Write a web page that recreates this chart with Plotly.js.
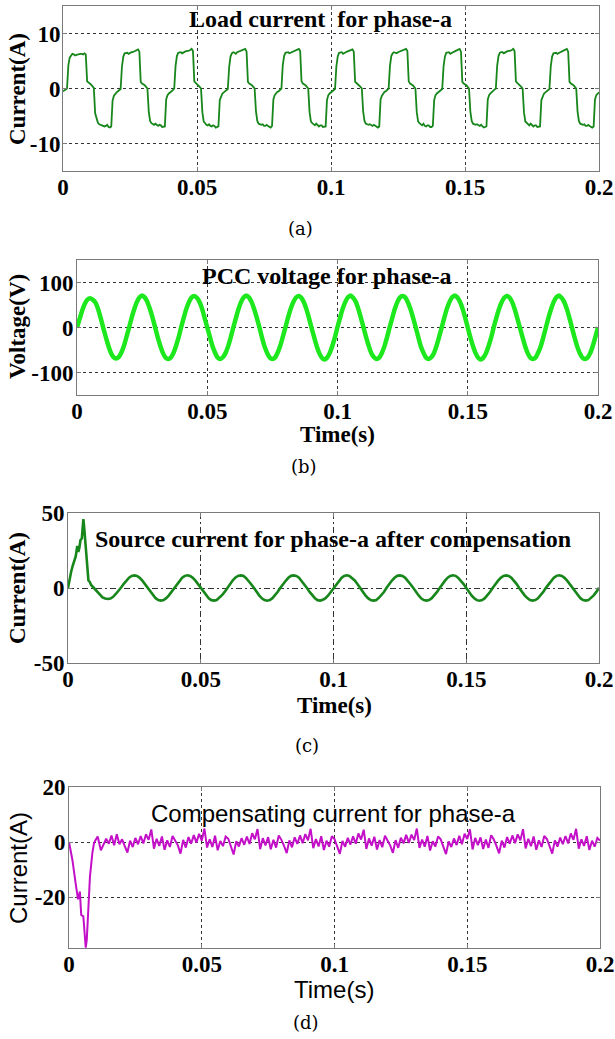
<!DOCTYPE html>
<html>
<head>
<meta charset="utf-8">
<script src="https://cdn.plot.ly/plotly-3.0.1.min.js"></script>
<style>html,body{margin:0;padding:0;background:#fff;}#chart{width:615px;height:1039px;}</style>
</head>
<body>
<div id="chart"></div>
<script>
// ---------------- DATA ----------------
const xTickVals = [0, 0.05, 0.1, 0.15, 0.2];
const xTickLabels = ['0', '0.05', '0.1', '0.15', '0.2'];
const yTickValsA = [-10, 0, 10];    const yTickLabelsA = ['-10', '0', '10'];
const yTickValsB = [-100, 0, 100];  const yTickLabelsB = ['-100', '0', '100'];
const yTickValsC = [-50, 0, 50];    const yTickLabelsC = ['-50', '0', '50'];
const yTickValsD = [-20, 0, 20];    const yTickLabelsD = ['-20', '0', '20'];

// (a) Load current, phase-a, sampled every 0.5 ms (rows = 20 ms cycles)
const loadStep = 0.0005;
const loadCurrent = [
 -0.5,-0.4,-0.2,0.0,4.2,5.6,6.1,6.3,6.2,6.0,6.1,6.2,6.2,6.3,6.3,6.2,6.4,6.2,1.3,1.0,0.9,0.7,0.4,0.1,-4.5,-5.4,-6.2,-6.5,-6.6,-6.6,-6.7,-6.9,-6.8,-6.6,-7.0,-7.1,-6.9,-2.2,-1.3,-0.9,
 -0.7,-0.5,-0.3,-0.1,4.0,5.8,6.4,6.5,6.5,6.3,6.5,6.6,6.6,6.7,6.8,6.9,7.1,6.7,1.2,0.9,0.8,0.6,0.3,0.0,-4.2,-5.9,-6.3,-6.5,-6.6,-6.4,-6.7,-6.8,-6.6,-6.7,-7.0,-7.0,-6.9,-2.0,-1.2,-0.9,
 -0.6,-0.5,-0.3,0.0,4.1,5.9,6.5,6.6,6.6,6.4,6.6,6.7,6.8,6.8,6.9,7.0,7.2,6.8,1.3,1.0,0.8,0.6,0.3,0.0,-4.3,-6.0,-6.4,-6.6,-6.7,-6.5,-6.8,-6.9,-6.7,-6.8,-7.1,-7.0,-6.9,-2.1,-1.3,-0.9,
 -0.7,-0.5,-0.3,-0.1,3.9,5.8,6.4,6.6,6.5,6.3,6.6,6.7,6.7,6.8,6.9,7.0,7.2,6.7,1.2,0.9,0.8,0.6,0.3,0.0,-4.1,-5.9,-6.4,-6.5,-6.6,-6.5,-6.8,-6.8,-6.6,-6.8,-7.0,-7.1,-6.8,-2.0,-1.2,-0.8,
 -0.6,-0.5,-0.2,0.0,4.2,5.9,6.5,6.6,6.6,6.4,6.5,6.7,6.7,6.8,6.9,7.1,7.2,6.8,1.3,0.9,0.8,0.6,0.3,0.0,-4.3,-6.0,-6.3,-6.6,-6.7,-6.4,-6.7,-6.9,-6.7,-6.7,-7.0,-7.0,-6.9,-2.1,-1.2,-0.9,
 -0.7,-0.5,-0.3,-0.1,4.0,5.8,6.5,6.5,6.6,6.3,6.5,6.6,6.7,6.8,6.9,7.0,7.1,6.7,1.2,1.0,0.8,0.6,0.3,0.0,-4.2,-5.9,-6.4,-6.5,-6.6,-6.5,-6.7,-6.8,-6.6,-6.8,-7.0,-7.1,-6.9,-2.0,-1.3,-0.9,
 -0.6,-0.5,-0.3,0.0,4.1,5.9,6.4,6.6,6.5,6.4,6.6,6.7,6.7,6.8,6.9,7.0,7.2,6.8,1.3,0.9,0.8,0.6,0.3,0.0,-4.3,-6.0,-6.3,-6.6,-6.7,-6.4,-6.8,-6.9,-6.7,-6.7,-7.0,-7.0,-6.8,-2.1,-1.2,-0.9,
 -0.7,-0.5,-0.3,-0.1,4.0,5.8,6.5,6.6,6.6,6.3,6.5,6.6,6.7,6.8,6.9,7.1,7.2,6.7,1.2,0.9,0.8,0.6,0.3,0.0,-4.2,-5.9,-6.4,-6.5,-6.6,-6.5,-6.7,-6.8,-6.6,-6.8,-7.1,-7.0,-6.9,-2.0,-1.2,-0.9,
 -0.6,-0.5,-0.2,0.0,4.1,5.9,6.5,6.6,6.6,6.4,6.6,6.7,6.8,6.8,6.9,7.0,7.2,6.8,1.3,1.0,0.8,0.6,0.3,0.0,-4.3,-6.0,-6.3,-6.6,-6.7,-6.4,-6.7,-6.9,-6.7,-6.7,-7.0,-7.0,-6.9,-2.1,-1.3,-0.9,
 -0.7,-0.5,-0.3,-0.1,4.0,5.8,6.4,6.5,6.5,6.3,6.5,6.6,6.7,6.8,6.9,7.0,7.2,6.7,1.2,0.9,0.8,0.6,0.3,0.0,-4.2,-5.9,-6.4,-6.5,-6.6,-6.5,-6.8,-6.8,-6.6,-6.8,-7.0,-7.1,-6.9,-2.0,-1.2,-0.9,
 -0.7
];

// (b) PCC voltage, phase-a, sampled every 1 ms
const voltStep = 0.001;
const pccVoltage = [
 0,19,38,53,62,65,62,56,43,23,1,-20,-40,-56,-66,-69,-66,-56,-41,-21,
 0,22,41,57,67,71,67,57,41,22,0,-22,-41,-57,-67,-70,-67,-57,-41,-22,
 1,22,42,57,67,70,66,57,42,21,0,-21,-41,-56,-67,-70,-66,-57,-42,-22,
 0,21,41,57,67,71,67,57,41,22,1,-22,-42,-57,-67,-70,-67,-56,-41,-21,
 0,22,41,56,66,70,67,57,42,22,0,-21,-41,-57,-67,-71,-67,-57,-41,-22,
 1,22,42,57,67,71,66,57,41,21,0,-22,-41,-57,-66,-70,-67,-57,-42,-22,
 0,21,41,57,67,70,67,56,41,22,1,-21,-42,-56,-67,-70,-66,-57,-41,-21,
 0,22,42,57,67,71,67,57,42,22,0,-22,-41,-57,-67,-71,-67,-57,-41,-22,
 1,22,41,56,66,70,67,57,41,21,0,-21,-41,-57,-67,-70,-67,-56,-42,-22,
 0,22,41,57,67,71,66,57,42,22,0,-22,-42,-57,-67,-70,-67,-57,-41,-21,
 1
];

// (c) Source current after compensation: start-up transient (ms, A) then steady part every 1 ms from 12 ms
const srcTransientMs = [0,0.6,1.2,1.8,2.4,2.9,3.5,3.9,4.3,4.7,5.2,5.5,5.8,6.2,6.6,7.0,7.4,7.7,8.2,8.7,9.5,10.5,11.0];
const srcTransientA  = [0,6,11,15,19,21,28,24,27,32,33,38,46,38,30,20,10,5,4,2,0.5,-1.5,-2.6];
const srcSteadyStartMs = 12;
const srcSteadyA = [
 -4.9,-6.3,-7.0,-7.3,-7.0,-5.9,-4.0,-2.0,
 0.3,2.8,5.0,6.9,8.0,8.4,8.0,6.8,4.9,2.5,0.0,-2.6,-4.9,-6.8,-8.0,-8.4,-8.0,-6.8,-4.9,-2.6,
 0.1,2.7,4.9,6.8,8.1,8.5,8.0,6.8,4.9,2.6,-0.1,-2.6,-5.0,-6.8,-8.1,-8.4,-8.0,-6.7,-4.8,-2.6,
 0.0,2.6,5.0,6.9,8.0,8.4,8.1,6.7,4.9,2.5,0.1,-2.7,-4.9,-6.9,-8.0,-8.5,-8.0,-6.8,-4.9,-2.5,
 0.2,2.7,4.8,6.8,8.1,8.4,8.0,6.9,4.8,2.6,0.0,-2.6,-5.0,-6.8,-8.1,-8.4,-7.9,-6.8,-5.0,-2.6,
 0.0,2.6,4.9,6.7,8.0,8.5,8.0,6.8,5.0,2.6,-0.1,-2.5,-4.9,-6.8,-8.0,-8.4,-8.1,-6.7,-4.9,-2.7,
 0.1,2.7,5.0,6.8,8.1,8.4,8.0,6.8,4.9,2.5,0.1,-2.6,-4.8,-6.9,-8.0,-8.4,-8.0,-6.8,-4.9,-2.6,
 0.0,2.6,4.9,6.9,8.0,8.5,8.1,6.7,4.9,2.6,0.0,-2.7,-5.0,-6.8,-8.1,-8.5,-8.0,-6.8,-4.8,-2.5,
 0.2,2.7,4.9,6.8,8.0,8.4,8.0,6.8,5.0,2.6,-0.1,-2.6,-4.9,-6.7,-8.0,-8.4,-8.0,-6.9,-4.9,-2.6,
 0.1,2.6,5.0,6.8,8.1,8.5,8.0,6.8,4.9,2.5,0.0,-2.6,-4.9,-6.8,-8.0,-8.4,-8.1,-6.8,-4.9,-2.6,
 0.2
];

// (d) Compensating current: start-up transient (ms, A) then steady part every 1 ms from 12 ms
const compTransientMs = [0,1.3,2.5,3.4,4.1,4.6,5.4,5.9,6.3,6.7,7.2,7.9,8.8,9.4,9.9,10.8];
const compTransientA  = [0,-6.6,-15,-20.8,-18,-26.5,-27,-35.5,-38.4,-35.5,-23.4,-12.5,-4,-0.5,0.6,2.0];
const compSteadyStartMs = 12;
const compSteadyA = [
 -3.0,-0.6,1.2,-0.6,2.4,-1.2,2.8,-0.8,
 1.0,-1.5,-3.8,0.5,-1.8,1.5,-0.8,2.2,-0.5,2.8,0.8,4.6,-2.4,1.2,-1.4,2.0,-2.8,0.6,-1.8,2.2,
 0.6,-1.2,-4.2,0.8,-2.0,1.8,-0.6,2.5,-0.2,3.0,0.5,4.9,-2.0,1.0,-1.8,2.3,-3.0,0.4,-1.5,2.0,
 1.2,-1.8,-4.5,0.3,-1.6,1.4,-1.0,2.0,-0.7,3.2,1.0,4.7,-2.6,1.4,-1.2,1.8,-2.6,0.8,-2.0,2.4,
 0.8,-1.4,-4.0,0.6,-1.9,1.7,-0.7,2.4,-0.4,2.9,0.6,4.8,-2.2,1.1,-1.6,2.1,-2.9,0.5,-1.7,2.1,
 1.1,-1.6,-4.3,0.4,-1.7,1.5,-0.9,2.1,-0.6,3.1,0.9,4.5,-2.5,1.3,-1.3,1.9,-2.7,0.7,-1.9,2.3,
 0.7,-1.3,-3.9,0.7,-2.1,1.6,-0.5,2.6,-0.3,2.7,0.7,4.9,-2.1,0.9,-1.7,2.2,-3.1,0.3,-1.6,2.0,
 1.0,-1.7,-4.4,0.2,-1.8,1.3,-1.1,2.3,-0.8,3.0,1.1,4.6,-2.7,1.5,-1.1,1.7,-2.5,0.9,-2.1,2.5,
 0.9,-1.4,-4.1,0.5,-2.0,1.8,-0.6,2.4,-0.4,2.8,0.6,4.7,-2.3,1.2,-1.5,2.0,-2.8,0.6,-1.8,2.2,
 1.1,-1.5,-4.2,0.6,-1.7,1.6,-0.8,2.2,-0.5,3.1,0.8,4.8,-2.4,1.0,-1.4,2.1,-2.9,0.5,-1.7,1.5,
 0.5
];

// ---------------- BUILD ----------------
const W = 615, H = 1039;
const sampleTimes = (arr, step, start) => arr.map((_, i) => start + i * step);
const tLoad = sampleTimes(loadCurrent, loadStep, 0);
const tVolt = sampleTimes(pccVoltage, voltStep, 0);
const tSrc = srcTransientMs.map(m => m / 1000).concat(sampleTimes(srcSteadyA, 0.001, srcSteadyStartMs / 1000));
const vSrc = srcTransientA.concat(srcSteadyA);
const tComp = compTransientMs.map(m => m / 1000).concat(sampleTimes(compSteadyA, 0.001, compSteadyStartMs / 1000));
const vComp = compTransientA.concat(compSteadyA);

const serifB = {family: 'Liberation Serif, Times New Roman, serif', size: 23, weight: 'bold', color: '#000'};
const sans = {family: 'Liberation Sans, Arial, sans-serif', size: 24, color: '#000'};

const traces = [
  {x: tLoad, y: loadCurrent, xaxis: 'x', yaxis: 'y', mode: 'lines', line: {color: '#17861b', width: 1.8}, hoverinfo: 'skip'},
  {x: tVolt, y: pccVoltage, xaxis: 'x2', yaxis: 'y2', mode: 'lines', line: {color: '#1de81d', width: 4.5, shape: 'spline', smoothing: 0.8}, hoverinfo: 'skip'},
  {x: tSrc, y: vSrc, xaxis: 'x3', yaxis: 'y3', mode: 'lines', line: {color: '#17861b', width: 2.6}, hoverinfo: 'skip'},
  {x: tComp, y: vComp, xaxis: 'x4', yaxis: 'y4', mode: 'lines', line: {color: '#c40fc8', width: 2}, hoverinfo: 'skip'}
];

function ax(extra) {
  return Object.assign({
    showline: true, linecolor: '#7a7a7a', linewidth: 1, mirror: 'ticks',
    ticks: 'inside', ticklen: 4, tickcolor: '#7a7a7a',
    showgrid: true, gridcolor: '#333', gridwidth: 1, griddash: 'dot',
    zeroline: false, tickfont: serifB, fixedrange: true
  }, extra);
}
const xd = (l, r) => [l / W, r / W];
const yd = (top, bot) => [1 - bot / H, 1 - top / H];
const xCommon = {range: [0, 0.2], tickvals: xTickVals, ticktext: xTickLabels, ticklabelstandoff: -5};

const layout = {
  width: W, height: H, margin: {l: 0, r: 0, t: 0, b: 0},
  paper_bgcolor: '#fff', plot_bgcolor: '#fff', showlegend: false,
  xaxis:  ax(Object.assign({domain: xd(63, 599), anchor: 'y'}, xCommon)),
  yaxis:  ax({domain: yd(6, 171),  anchor: 'x',  range: [-15, 15], tickvals: yTickValsA, ticktext: yTickLabelsA, ticklabelstandoff: -3}),
  xaxis2: ax(Object.assign({domain: xd(77, 598), anchor: 'y2'}, xCommon)),
  yaxis2: ax({domain: yd(260, 395), anchor: 'x2', range: [-150, 150], tickvals: yTickValsB, ticktext: yTickLabelsB, ticklabelstandoff: -2}),
  xaxis3: ax(Object.assign({domain: xd(68, 599), anchor: 'y3', griddash: '6px,3px,2px,3px'}, xCommon)),
  yaxis3: ax({domain: yd(513, 663), anchor: 'x3', range: [-50, 50], tickvals: yTickValsC, ticktext: yTickLabelsC, griddash: '6px,3px,2px,3px', ticklabelstandoff: -2}),
  xaxis4: ax(Object.assign({domain: xd(69, 600), anchor: 'y4'}, xCommon)),
  yaxis4: ax({domain: yd(787, 948), anchor: 'x4', range: [-38.5, 20], tickvals: yTickValsD, ticktext: yTickLabelsD, ticklabelstandoff: -2}),
  annotations: []
};

function note(text, px, py, font, angle) {
  layout.annotations.push({text: text, xref: 'paper', yref: 'paper', x: px / W, y: 1 - py / H,
    xanchor: 'center', yanchor: 'middle', showarrow: false, font: font, textangle: angle || 0});
}
const titleFont = Object.assign({}, serifB, {size: 24});
note('Load current\u00a0\u00a0for phase-a', 320, 19, titleFont);
note('PCC voltage for phase-a', 327, 276, titleFont);
note('Source current for phase-a after compensation', 333, 539, titleFont);
note('Compensating current for phase-a', 333, 813, sans);

note('Current(A)', 17, 89, serifB, -90);
note('Voltage(V)', 17, 327, serifB, -90);
note('Current(A)', 17, 588, serifB, -90);
note('Current(A)', 18, 868, sans, -90);

note('Time(s)', 337, 434, serifB);
note('Time(s)', 334, 705, serifB);
note('Time(s)', 334, 989, sans);

const capFont = {family: 'DejaVu Serif, serif', size: 18, color: '#000'};
note('(a)', 300, 229, capFont);
note('(b)', 304, 466, capFont);
note('(c)', 307, 745, capFont);
note('(d)', 306, 1022, capFont);

Plotly.newPlot('chart', traces, layout, {displayModeBar: false, staticPlot: true});
</script>
</body>
</html>
